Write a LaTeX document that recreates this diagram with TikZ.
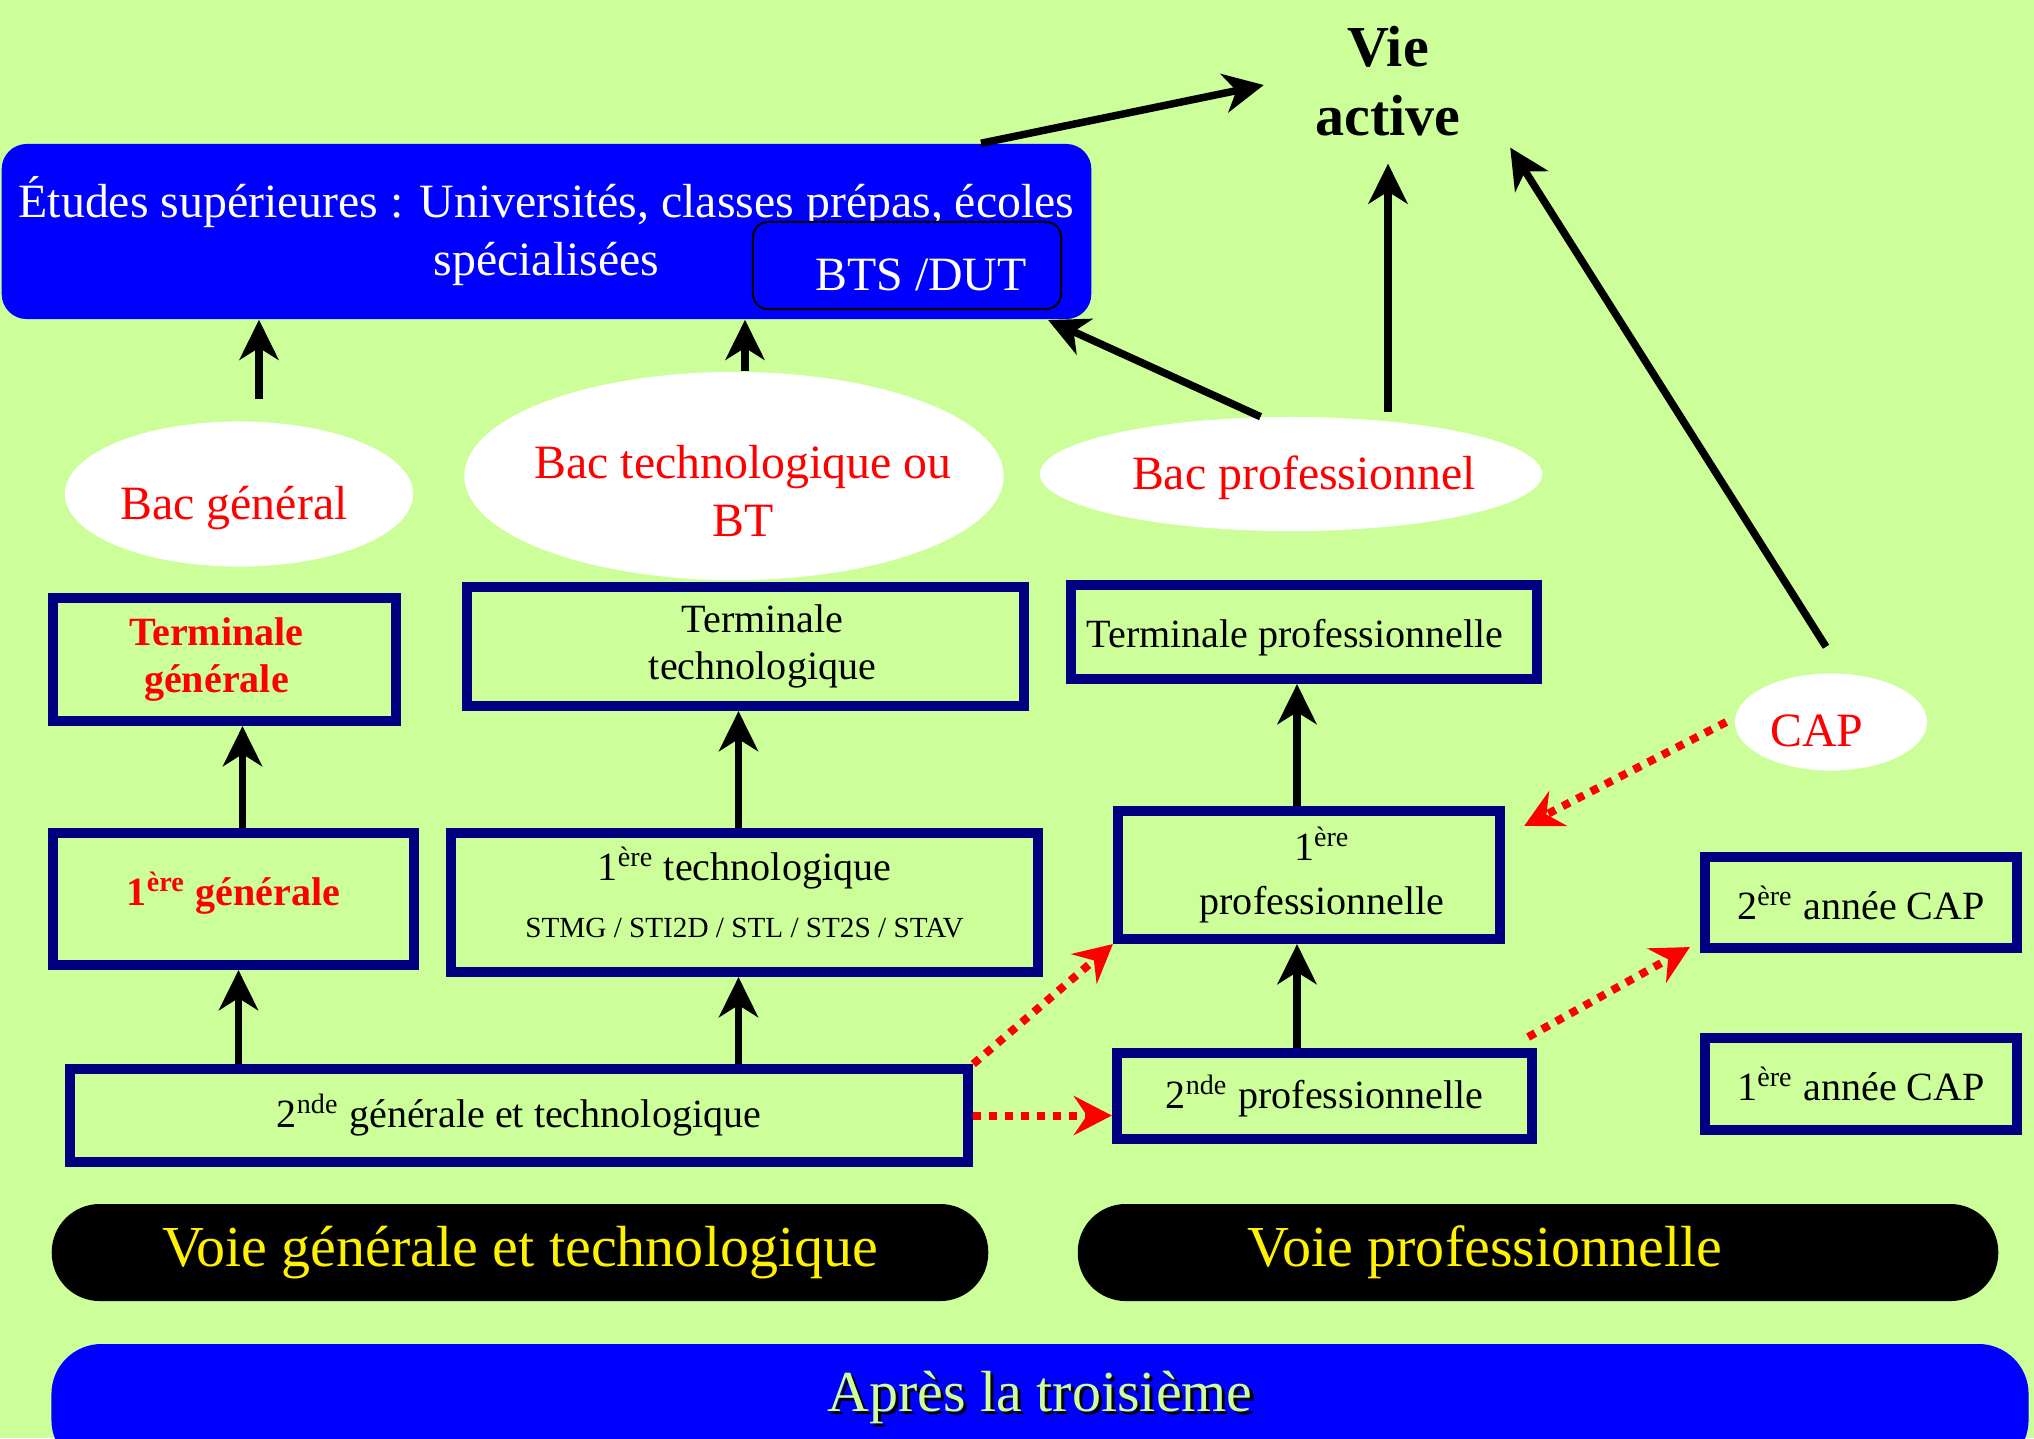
\documentclass[tikz,border=0pt]{standalone}
\usepackage{fontspec}
\setmainfont{Liberation Serif}
\usepackage{xcolor}
\usetikzlibrary{arrows.meta,shapes.geometric,positioning,calc}

\definecolor{vertclair}{RGB}{204,255,153}
\definecolor{bleuvif}{RGB}{0,0,255}
\definecolor{marine}{RGB}{0,0,128}

\newcommand{\grandtexte}{\fontsize{16.5}{19.6}\selectfont}
\newcommand{\moyentexte}{\fontsize{13.6}{16.5}\selectfont}
\newcommand{\petittexte}{\fontsize{11.4}{13.4}\selectfont}
\newcommand{\minitexte}{\fontsize{8.3}{10}\selectfont}

\begin{document}
\begin{tikzpicture}[x=0.01cm, y=-0.01cm,
  classe/.style={draw=marine, line width=0.1cm, inner sep=0pt, align=center, font=\petittexte},
  etiquette/.style={font=\petittexte, align=center, inner sep=0pt},
  bac/.style={ellipse, fill=white, inner sep=0pt},
  bactexte/.style={text=red, align=center, font=\moyentexte, inner sep=0pt},
  voie/.style={fill=black, text=yellow, rounded corners=0.48cm, inner sep=0pt, minimum height=0.97cm, font=\grandtexte},
  fleche/.style={line width=0.075cm, -{Stealth[length=0.4cm, width=0.39cm, inset=0.12cm]}},
  passerelle/.style={red, line width=0.08cm, dash pattern=on 0.08cm off 0.08cm, -{Stealth[length=0.38cm, width=0.39cm, inset=0.13cm]}}]
%%%%% Fond %%%%%
\useasboundingbox (0,0) rectangle (2034,1438);
\fill[vertclair] (0,0) rectangle (2034,1438);

%%%%% Après le bac %%%%%
\node[fill=bleuvif, text=white, rounded corners=0.25cm, minimum width=10.89cm, minimum height=1.75cm, align=center, font=\moyentexte, inner sep=0pt] (etudes) at (546.5,231.5) {Études supérieures : Universités, classes prépas, écoles\\spécialisées};
\node[draw=black, line width=0.02cm, fill=bleuvif, rounded corners=0.15cm, minimum width=3.08cm, minimum height=0.87cm, inner sep=0pt,
  label={[text=white, font=\moyentexte, inner sep=0pt, xshift=0.14cm, yshift=-0.09cm]center:BTS /DUT}] (bts) at (907,265.5) {};
\node[font=\bfseries\grandtexte, align=center, inner sep=0pt] (vie) at (1388,81) {Vie\\active};

%%%%% Bacs %%%%%
\node[bac, minimum width=3.48cm, minimum height=1.45cm, label={[bactexte, xshift=-0.05cm, yshift=-0.14cm]center:Bac général}] (bacgen) at (239,494) {};
\node[bac, minimum width=5.39cm, minimum height=2.08cm, label={[bactexte, xshift=0.09cm, yshift=-0.15cm]center:Bac technologique ou\\BT}] (bactech) at (734,476) {};
\node[bac, minimum width=5.02cm, minimum height=1.14cm, label={[bactexte, xshift=0.13cm, yshift=-0.04cm]center:Bac professionnel}] (bacpro) at (1291,474) {};
\node[bac, minimum width=1.92cm, minimum height=0.97cm, label={[bactexte, xshift=-0.14cm, yshift=-0.09cm]center:CAP}] (cap) at (1831,722) {};

%%%%% Classes %%%%%
\node[classe, minimum width=3.43cm, minimum height=1.23cm,
  label={[etiquette, text=red, font=\bfseries\petittexte, xshift=-0.08cm]center:Terminale\\générale}] (termgen) at (224.5,659.5) {};
\node[classe, minimum width=5.57cm, minimum height=1.19cm,
  label={[etiquette, xshift=0.17cm]center:Terminale\\technologique}] (termtech) at (745.5,646.5) {};
\node[classe, minimum width=4.66cm, minimum height=0.94cm,
  label={[etiquette, xshift=-0.09cm, yshift=-0.06cm]center:Terminale professionnelle}] (termpro) at (1304,632) {};
\node[classe, text=red, font=\bfseries\petittexte, minimum width=3.61cm, minimum height=1.32cm] (premgen) at (233.5,899) {\raisebox{0.06cm}[\height][\depth]{1\textsuperscript{ère} générale}};
\node[classe, minimum width=5.87cm, minimum height=1.39cm,
  label={[etiquette, yshift=0.1cm]center:1\textsuperscript{ère} technologique\\[3pt]{\minitexte STMG / STI2D / STL / ST2S / STAV}}] (premtech) at (744.5,902.5) {};
\node[classe, minimum width=8.98cm, minimum height=0.93cm] (secgt) at (519,1115.5) {2\textsuperscript{nde} générale et technologique};
\node[classe, minimum width=3.82cm, minimum height=1.28cm,
  label={[etiquette, xshift=0.13cm]center:1\textsuperscript{ère}\\[2pt]professionnelle}] (prempro) at (1309,875) {};
\node[classe, minimum width=4.15cm, minimum height=0.86cm] (secpro) at (1324.5,1096) {2\textsuperscript{nde} professionnelle};
\node[classe, minimum width=3.12cm, minimum height=0.91cm] (capdeux) at (1861,902.5) {2\textsuperscript{ère} année CAP};
\node[classe, minimum width=3.12cm, minimum height=0.92cm] (capun) at (1861,1084) {1\textsuperscript{ère} année CAP};

%%%%% Voies %%%%%
\node[voie, minimum width=9.36cm] (voiegt) at (520,1252.5) {Voie générale et technologique};
\node[voie, minimum width=9.20cm] (voiepro) at (1538,1252.5) {Voie professionnelle\hspace*{1.06cm}};
\node[fill=bleuvif, rounded corners=0.5cm, minimum width=19.76cm, minimum height=1.26cm, inner sep=0pt] (apres) at (1040,1407) {};
\node[text=black, font=\grandtexte, inner sep=0pt] (apresombre) at (1043,1400) {Après la troisième};
\node[text=vertclair, font=\grandtexte, inner sep=0pt] (aprestexte) at (1040,1397) {Après la troisième};

%%%%% Flèches %%%%%
\draw[fleche] ($(etudes.north east)+(-111,0)$) -- ($(vie.west)+(-51,4)$);
\draw[fleche] ($(bacgen.north)+(20,-22)$) -- ($(bacgen.north |- etudes.south)+(20,0)$);
\draw[fleche] ($(bactech.north)+(11,0)$) -- ($(bactech.north |- etudes.south)+(11,0)$);
\draw[fleche] (bacpro.118) -- ($(bts.south east)+(-14,10)$);
\draw[fleche] ($(vie.south |- bacpro.north)+(0,-4)$) -- ($(vie.south)+(0,27)$);
\draw[fleche] ($(cap.north)+(-5,-26)$) -- ($(vie.south east)+(49,11)$);
\draw[fleche] ($(secgt.north -| premgen.south)+(5,0)$) -- ($(premgen.south)+(5,0)$);
\draw[fleche] ($(premgen.north)+(9,0)$) -- ($(premgen.north |- termgen.south)+(9,0)$);
\draw[fleche] ($(secgt.north -| premtech.south)+(-6,0)$) -- ($(premtech.south)+(-6,0)$);
\draw[fleche] ($(premtech.north)+(-6,0)$) -- ($(premtech.north |- termtech.south)+(-6,0)$);
\draw[fleche] ($(secpro.north -| prempro.south)+(-12,0)$) -- ($(prempro.south)+(-12,0)$);
\draw[fleche] ($(prempro.north)+(-12,0)$) -- ($(prempro.north |- termpro.south)+(-12,0)$);

%%%%% Passerelles %%%%%
\draw[passerelle] (secgt.north east) -- (prempro.south west);
\draw[passerelle] (secgt.east) -- (secgt.east -| secpro.west);
\draw[passerelle] ($(secpro.north east)+(-9,-11)$) -- ($(capdeux.south west)+(-10,-6)$);
\draw[passerelle] ($(cap.west)+(-8,0)$) -- ($(prempro.north east)+(19,20)$);
\end{tikzpicture}
\end{document}
